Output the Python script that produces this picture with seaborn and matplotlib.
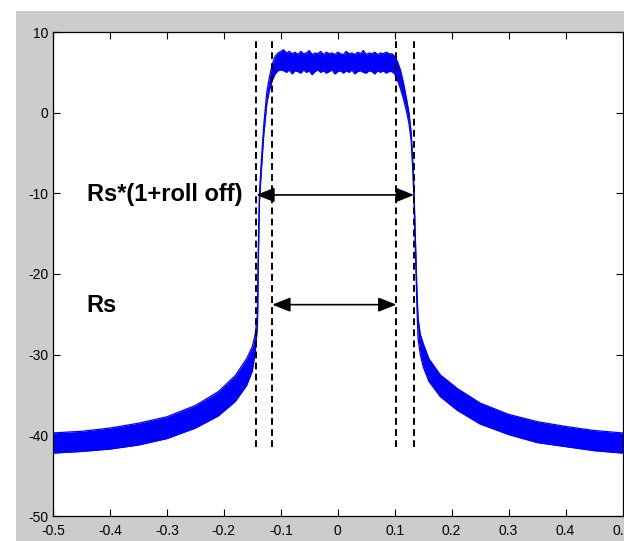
import numpy as np
import pandas as pd
import matplotlib
matplotlib.use('Agg')
import matplotlib.pyplot as plt
from matplotlib.patches import Rectangle
import seaborn as sns

# spectrum envelope (upper / lower edge of the blue band)
left_freq = [-0.5, -0.45, -0.4, -0.35, -0.3, -0.25, -0.21, -0.18, -0.16, -0.15, -0.145, -0.141,
             -0.1405, -0.1395, -0.1375, -0.134, -0.13, -0.1245, -0.12, -0.115, -0.11, -0.105, -0.1]
left_upper = [-39.7, -39.5, -39.1, -38.5, -37.7, -36.3, -34.6, -32.6, -30.5, -29.0, -27.5, -25.0,
              -22.0, -17.0, -10.0, -5.8, -1.6, 2.6, 4.4, 6.0, 7.0, 7.4, 7.6]
left_lower = [-42.2, -42.0, -41.7, -41.2, -40.4, -39.1, -37.6, -35.8, -33.8, -32.0, -29.8, -26.5,
              -24.0, -18.5, -11.0, -7.0, -2.8, 1.2, 2.8, 4.0, 4.8, 5.2, 5.3]

top_freq = [-0.095, -0.09, -0.085, -0.08, -0.075, -0.07, -0.065, -0.06, -0.055, -0.05,
            -0.045, -0.04, -0.035, -0.03, -0.025, -0.02, -0.015, -0.01, -0.005, 0.0,
            0.005, 0.01, 0.015, 0.02, 0.025, 0.03, 0.035, 0.04, 0.045, 0.05,
            0.055, 0.06, 0.065, 0.07, 0.075, 0.08, 0.085, 0.09]
top_upper = [7.8, 7.4, 7.6, 7.3, 7.5, 7.2, 7.6, 7.3, 7.4, 7.7,
             7.2, 7.4, 7.3, 7.6, 7.2, 7.5, 7.3, 7.4, 7.2, 7.5,
             7.3, 7.2, 7.6, 7.3, 7.4, 7.2, 7.5, 7.3, 7.7, 7.2,
             7.4, 7.3, 7.5, 7.2, 7.4, 7.3, 7.5, 7.3]
top_lower = [5.2, 5.0, 5.3, 4.8, 5.2, 5.1, 4.9, 5.3, 5.0, 5.2,
             4.7, 5.1, 5.3, 5.0, 5.2, 4.9, 5.1, 5.3, 4.8, 5.1,
             5.2, 4.9, 5.2, 5.0, 5.3, 4.8, 5.1, 5.2, 5.0, 4.9,
             5.2, 5.1, 4.8, 5.2, 5.0, 5.2, 4.9, 5.1]

right_freq = [0.095, 0.1, 0.105, 0.11, 0.115, 0.12, 0.125, 0.129, 0.132, 0.134, 0.1365, 0.139,
              0.141, 0.145, 0.15, 0.16, 0.18, 0.21, 0.25, 0.3, 0.35, 0.4, 0.45, 0.5]
right_upper = [7.3, 7.0, 6.3, 5.3, 3.8, 2.0, 0.0, -2.5, -6.5, -10.0, -16.0, -22.0,
               -25.5, -27.5, -28.6, -30.5, -32.5, -34.2, -36.0, -37.4, -38.3, -38.9, -39.4, -39.7]
right_lower = [5.1, 4.8, 4.0, 3.0, 1.8, 0.4, -1.3, -3.5, -7.5, -11.0, -17.5, -24.0,
               -28.0, -30.0, -31.5, -33.3, -35.2, -36.9, -38.6, -39.9, -40.9, -41.4, -41.9, -42.2]

# bandwidth markers
edge_freq = [-0.143, -0.115, 0.103, 0.134]
dash_top = 9.4
dash_bottom = -41.5
rolloff_span = (-0.143, 0.134)
rolloff_level = -10.2
rs_span = (-0.115, 0.103)
rs_level = -23.8

x_ticks = [-0.5, -0.4, -0.3, -0.2, -0.1, 0, 0.1, 0.2, 0.3, 0.4, 0.5]
x_labels = ['-0.5', '-0.4', '-0.3', '-0.2', '-0.1', '0', '0.1', '0.2', '0.3', '0.4', '0.5']
y_ticks = [-50, -40, -30, -20, -10, 0, 10]
y_labels = ['-50', '-40', '-30', '-20', '-10', '0', '10']

df = pd.DataFrame({
    'freq': left_freq + top_freq + right_freq,
    'upper': left_upper + top_upper + right_upper,
    'lower': left_lower + top_lower + right_lower,
})

sns.set_style('ticks')
plt.rcParams['font.family'] = ['Liberation Sans', 'DejaVu Sans']

fig = plt.figure(figsize=(6.24, 5.41), dpi=100, facecolor='white')
fig.add_artist(Rectangle((16 / 624, 0), 1, 530 / 541, transform=fig.transFigure,
                         facecolor='#cccccc', edgecolor='none', zorder=-1))
ax = fig.add_axes([53 / 624, 25 / 541, 569.5 / 624, 484 / 541])
ax.set_facecolor('white')

blue = '#0000ff'
ax.fill_between(df['freq'], df['lower'], df['upper'], color=blue, lw=0, zorder=2)
sns.lineplot(data=df, x='freq', y='upper', color=blue, lw=0.9, ax=ax, zorder=2)
sns.lineplot(data=df, x='freq', y='lower', color=blue, lw=0.9, ax=ax, zorder=2)

for f in edge_freq:
    ax.plot([f, f], [dash_bottom, dash_top], color='k', ls=(0, (3.5, 2.2)), lw=1.4, zorder=3)

arrow = dict(arrowstyle='<|-|>,head_length=0.55,head_width=0.22', mutation_scale=20,
             color='k', lw=1.2, shrinkA=0, shrinkB=0)
ax.annotate('', xy=(rolloff_span[1], rolloff_level), xytext=(rolloff_span[0], rolloff_level),
            arrowprops=arrow, zorder=4)
ax.annotate('', xy=(rs_span[1], rs_level), xytext=(rs_span[0], rs_level),
            arrowprops=arrow, zorder=4)

ax.text(-0.441, -11.0, 'Rs*(1+roll off)', fontsize=17, fontweight='bold', color='k',
        va='baseline', ha='left')
ax.text(-0.441, -24.7, 'Rs', fontsize=17, fontweight='bold', color='k',
        va='baseline', ha='left')

ax.set_xlim(-0.5, 0.5)
ax.set_ylim(-50, 10)
ax.set_xticks(x_ticks)
ax.set_xticklabels(x_labels)
ax.set_yticks(y_ticks)
ax.set_yticklabels(y_labels)
ax.set_xlabel('')
ax.set_ylabel('')
ax.tick_params(direction='in', top=True, right=True, length=5, width=0.8,
               labelsize=10, colors='k')
ax.tick_params(axis='x', pad=6)
ax.tick_params(axis='y', pad=3.5)
for s in ax.spines.values():
    s.set_color('k')
    s.set_linewidth(0.9)

fig.savefig('out.png', dpi=100, facecolor=fig.get_facecolor())
